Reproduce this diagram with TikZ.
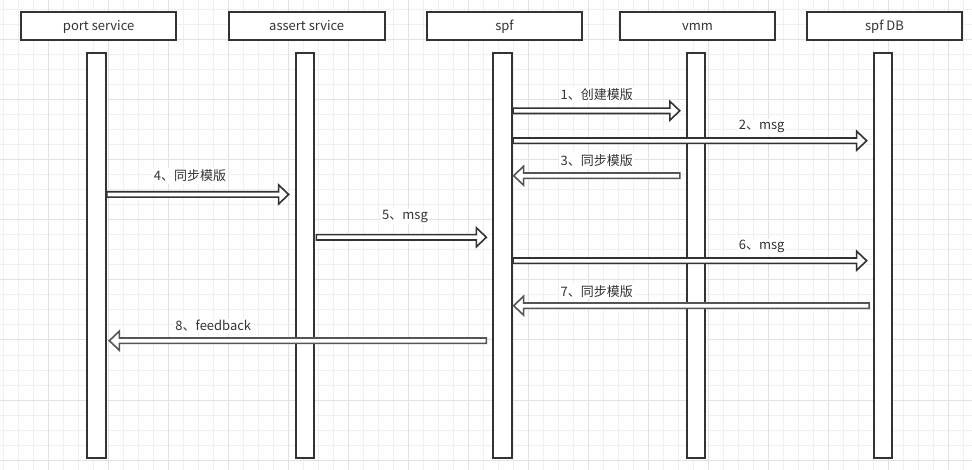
\documentclass[tikz,border=0pt]{standalone}
\usepackage{fontspec}
\setmainfont{Noto Sans CJK SC}
\usetikzlibrary{calc}
\definecolor{ink}{HTML}{333333}
\definecolor{retc}{HTML}{555555}
\definecolor{gridminor}{HTML}{F0F0F0}
\definecolor{gridmajor}{HTML}{E2E2E2}
\begin{document}
\begin{tikzpicture}[x=1pt,y=-1pt,
 hdr/.style={draw=ink,line width=2pt,fill=white,minimum width=155.6pt,minimum height=28.3pt,inner sep=0pt,text height=10.5pt,text depth=1.5pt,font=\fontsize{13}{15}\selectfont,text=ink},
 life/.style={draw=ink,line width=2pt,fill=white,minimum width=18.7pt,minimum height=405.3pt,inner sep=0pt},
 blk/.style={draw=ink,line width=1.6pt,fill=white,line join=miter,
   to path={let \p1=(\tikztostart),\p2=(\tikztotarget),\n1={sign(\x2-\x1)} in
   (\x1,\y1+2.7pt) -- ({\x2-(\n1)*10pt},\y1+2.7pt) -- ({\x2-(\n1)*10pt},\y1+9.5pt) -- (\x2,\y1)
   -- ({\x2-(\n1)*10pt},\y1-9.5pt) -- ({\x2-(\n1)*10pt},\y1-2.7pt) -- (\x1,\y1-2.7pt) -- cycle}},
 retarrow/.style={blk,draw=retc},
 lbl/.style={fill=white,inner sep=1.5pt,font=\fontsize{13}{15}\selectfont,text=ink}]
\fill[white] (0,0) rectangle (972,470);
\useasboundingbox (0,0) rectangle (972,470);
% grid
\foreach \gx in {0,...,64} \draw[gridminor,line width=1pt] ({3.3+15*\gx},0) -- ({3.3+15*\gx},470);
\foreach \gy in {0,...,30} \draw[gridminor,line width=1pt] (0,{10+15*\gy}) -- (972,{10+15*\gy});
\foreach \gx in {0,...,15} \draw[gridmajor,line width=1pt] ({48.3+60*\gx},0) -- ({48.3+60*\gx},470);
\foreach \gy in {0,...,7} \draw[gridmajor,line width=1pt] (0,{40+60*\gy}) -- (972,{40+60*\gy});
% headers
\node[hdr] (h1) at (98.65,25.85) {port service};
\node[hdr] (h2) at (306.7,25.85) {assert srvice};
\node[hdr] (h3) at (504.5,25.85) {spf};
\node[hdr] (h4) at (697.5,25.85) {vmm};
\node[hdr] (h5) at (884.5,25.85) {spf DB};
% lifelines
\node[life] (l1) at (96.35,255.35) {};
\node[life] (l2) at (305,255.35) {};
\node[life] (l3) at (502.7,255.35) {};
\node[life] (l4) at (695.85,255.35) {};
\node[life] (l5) at (883,255.35) {};
% messages
\draw[blk] ($(l3.north east)+(0,59.1)$) to ($(l4.north west)+(-5.7,59.1)$);
\draw[blk] ($(l3.north east)+(0,89)$) to ($(l5.north west)+(-6,89)$);
\draw[retarrow] ($(l4.north west)+(-5.7,124)$) to ($(l3.north east)+(0.6,124)$);
\draw[blk] ($(l1.north east)+(0,142.8)$) to ($(l2.north west)+(-6,142.8)$);
\draw[blk] ($(l2.north east)+(1,185.6)$) to ($(l3.north west)+(-6,185.6)$);
\draw[blk] ($(l3.north east)+(0,209)$) to ($(l5.north west)+(-6,209)$);
\draw[retarrow] ($(l5.north west)+(-3.4,254)$) to ($(l3.north east)+(0.6,254)$);
\draw[retarrow] ($(l3.north west)+(-6,289)$) to ($(l1.north east)+(2.6,289)$);
% labels
\node[lbl] (m1) at (596.7,95) {1、创建模版};
\node[lbl] (m2) at (761.7,126.7) {2、msg};
\node[lbl] (m3) at (596.7,161) {3、同步模版};
\node[lbl] (m4) at (190,176) {4、同步模版};
\node[lbl] (m5) at (405,216.7) {5、msg};
\node[lbl] (m6) at (761.7,246.7) {6、msg};
\node[lbl] (m7) at (596.7,291.7) {7、同步模版};
\node[lbl] (m8) at (213.3,326) {8、feedback};
\end{tikzpicture}
\end{document}
